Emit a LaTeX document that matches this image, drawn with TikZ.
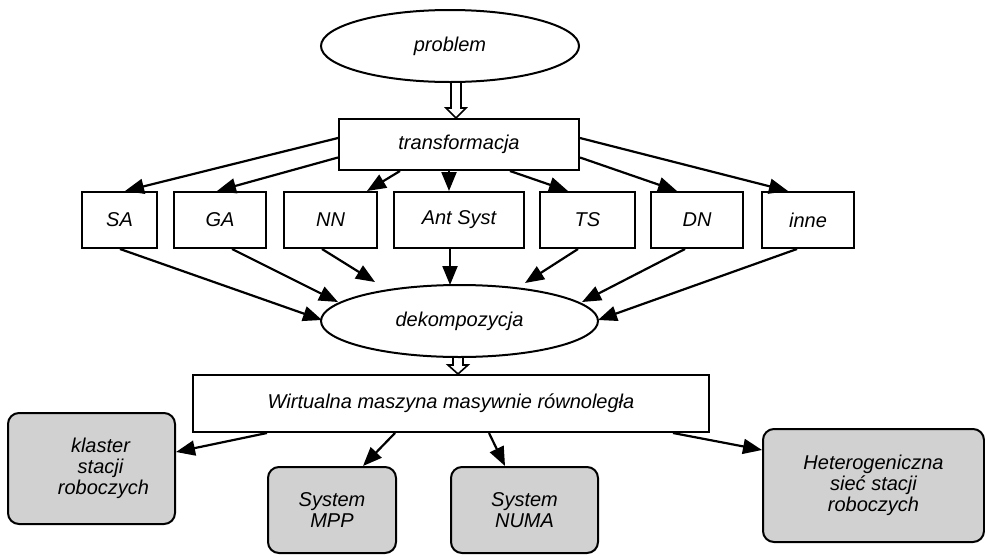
\documentclass[tikz,border=0pt]{standalone}
\usepackage{fontspec}
\setmainfont{Liberation Sans}
\usetikzlibrary{arrows.meta,calc,shapes.geometric}

% Hollow (outlined) downward arrow between two anchors: #1 start, #2 end, #3 head length
\newcommand\hollowdown[3]{%
  \draw[hollow] let \p1=(#1), \p2=(#2) in
    (\x1-5pt,\y1) -- (\x1-5pt,\y2+#3) -- (\x1-10pt,\y2+#3) -- (\x1,\y2)
    -- (\x1+10pt,\y2+#3) -- (\x1+5pt,\y2+#3) -- (\x1+5pt,\y1);}

\tikzset{
  txt/.style={font=\fontsize{20}{21}\selectfont\itshape, align=center, inner sep=0pt},
  oval/.style={txt, ellipse, draw, line width=2pt},
  plainbox/.style={txt, rectangle, draw, line width=2pt},
  sysbox/.style={txt, rectangle, rounded corners=11pt, draw, line width=2pt, fill=black!18},
  link/.style={line width=2.2pt, -{Triangle[length=19pt,width=15pt]}},
  hollow/.style={line width=1.6pt, line join=miter},
}

\begin{document}
\begin{tikzpicture}[x=1pt, y=-1pt]
\useasboundingbox (0,0) rectangle (985,557);

% top of the flow
\node[oval, minimum width=258pt, minimum height=72pt] (prob) at (450,46) {problem};
\node[plainbox, minimum width=240pt, minimum height=51pt] (trans) at (459,144.5) {transformacja};

% methods
\node[plainbox, minimum width=75pt,  minimum height=56pt] (sa)   at (119.5,220) {SA};
\node[plainbox, minimum width=92pt,  minimum height=56pt] (ga)   at (220,220)   {GA};
\node[plainbox, minimum width=93pt,  minimum height=56pt] (nn)   at (330.5,220) {NN};
\node[plainbox, minimum width=130pt, minimum height=56pt] (ant)  at (459,220)   {Ant Syst};
\node[plainbox, minimum width=95pt,  minimum height=56pt] (ts)   at (587.5,220) {TS};
\node[plainbox, minimum width=92pt,  minimum height=56pt] (dn)   at (697,220)   {DN};
\node[plainbox, minimum width=92pt,  minimum height=56pt] (inne) at (808,220)   {inne};

\node[oval, minimum width=277pt, minimum height=72pt] (dek) at (459.5,321) {dekompozycja};
\node[plainbox, minimum width=516pt, minimum height=57pt] (wirt) at (451,403.5) {Wirtualna maszyna masywnie równoległa};

% target platforms
\node[sysbox, minimum width=167pt, minimum height=111pt] (klaster) at (91.5,468.5) {\hspace*{18pt}klaster\\\hspace*{18pt}stacji\\\hspace*{24pt}roboczych};
\node[sysbox, minimum width=128pt, minimum height=86pt] (mpp)  at (332,510)   {System\\MPP};
\node[sysbox, minimum width=147pt, minimum height=86pt] (numa) at (524.5,510) {System\\NUMA};
\node[sysbox, minimum width=221pt, minimum height=113pt] (het) at (873.5,485.5) {Heterogeniczna\\sieć stacji\\roboczych};

% hollow arrows
\hollowdown{[xshift=6pt]prob.south}{trans.north}{10pt}
\hollowdown{[xshift=-1.5pt]dek.south}{wirt.north}{9pt}

% transformacja -> methods
\draw[link] ([yshift=6.5pt]trans.west)  -- ([xshift=5.5pt]sa.north);
\draw[link] ([yshift=-13pt]trans.west)  -- ([xshift=-3pt]ga.north);
\draw[link] ([xshift=-59pt]trans.south) -- ([xshift=36.5pt]nn.north);
\draw[link] ([xshift=-10pt]trans.south) -- ([xshift=-10pt]ant.north);
\draw[link] ([xshift=51pt]trans.south)  -- ([xshift=-19.5pt]ts.north);
\draw[link] ([yshift=-13pt]trans.east)  -- ([xshift=-20pt]dn.north);
\draw[link] ([yshift=6.5pt]trans.east)  -- ([xshift=-20pt]inne.north);

% methods -> dekompozycja
\draw[link] ([xshift=0.5pt]sa.south)   -- ([xshift=-137.5pt,yshift=1pt]dek.center);
\draw[link] ([xshift=12pt]ga.south)    -- ([xshift=-121.5pt,yshift=19pt]dek.center);
\draw[link] ([xshift=-8.5pt]nn.south)  -- ([xshift=-84.5pt,yshift=39pt]dek.center);
\draw[link] ([xshift=-9pt]ant.south)   -- ([xshift=-9.5pt,yshift=36pt]dek.center);
\draw[link] ([xshift=-9.5pt]ts.south)  -- ([xshift=65.5pt,yshift=38pt]dek.center);
\draw[link] ([xshift=-12pt]dn.south)   -- ([xshift=122.5pt,yshift=19pt]dek.center);
\draw[link] ([xshift=-11pt]inne.south) -- ([xshift=138.5pt,yshift=1pt]dek.center);

% virtual machine -> platforms
\draw[link] ([xshift=-184pt]wirt.south) -- ([yshift=16.5pt]klaster.east);
\draw[link] ([xshift=-56pt]wirt.south)  -- ([xshift=31pt]mpp.north);
\draw[link] ([xshift=38pt]wirt.south)   -- ([xshift=-19.5pt]numa.north);
\draw[link] ([xshift=222pt]wirt.south)  -- ([yshift=35.5pt]het.west);
\end{tikzpicture}
\end{document}
